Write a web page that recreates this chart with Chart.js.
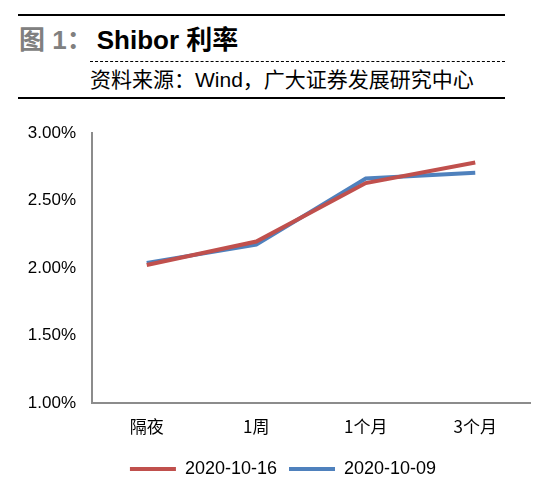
<!DOCTYPE html>
<html>
<head>
<meta charset="utf-8">
<script src="https://cdn.jsdelivr.net/npm/chart.js@4"></script>
<style>
  html, body { margin: 0; padding: 0; background: #fff; }
  body { width: 550px; height: 495px; position: relative; overflow: hidden; font-family: "Liberation Sans", "Noto Sans CJK SC", sans-serif; }
  .rule { position: absolute; left: 18px; width: 487px; border-top: 2px solid #000; }
  .dash { position: absolute; left: 90px; width: 415px; border-top: 1px dashed #000; top: 61px; }
  .title { position: absolute; left: 19px; top: 24px; font-size: 26px; font-weight: bold; line-height: 32px; white-space: nowrap; }
  .title .no { color: #808080; margin-right: 4px; }
  .sub { position: absolute; left: 90px; top: 66px; font-size: 21px; line-height: 28px; white-space: nowrap; }
  #wrap { position: absolute; left: 0; top: 0; width: 550px; height: 495px; }
</style>
</head>
<body>
<div class="rule" style="top:14px"></div>
<div class="title"><span class="no">图 1：</span>Shibor 利率</div>
<div class="dash"></div>
<div class="sub">资料来源：Wind，广大证券发展研究中心</div>
<div class="rule" style="top:97px"></div>
<div id="wrap"><canvas id="myChart"></canvas></div>
<script>
const categories = ['隔夜', '1周', '1个月', '3个月'];
const rate1016 = [2.022, 2.196, 2.629, 2.781];
const rate1009 = [2.038, 2.173, 2.663, 2.705];
const yTicks = [1.00, 1.50, 2.00, 2.50, 3.00];

// push the legend a bit to the right, like the original
const legendShift = {
    id: 'legendShift',
    afterLayout(chart) {
        chart.legend.left += 18;
        chart.legend.right += 18;
    }
};

var ctx = document.getElementById('myChart').getContext('2d');
var myChart = new Chart(ctx, {
    type: 'line',
    data: {
        labels: categories,
        datasets: [{
            label: '2020-10-16',
            data: rate1016,
            borderColor: '#C0504D',
            backgroundColor: '#C0504D',
            borderWidth: 4,
            pointRadius: 0,
            tension: 0
        }, {
            label: '2020-10-09',
            data: rate1009,
            borderColor: '#4F81BD',
            backgroundColor: '#4F81BD',
            borderWidth: 4,
            pointRadius: 0,
            tension: 0
        }]
    },
    options: {
        responsive: true,
        maintainAspectRatio: false,
        animation: false,
        layout: { padding: { top: 133, left: 0, right: 20, bottom: 7 } },
        plugins: {
            tooltip: { enabled: false },
            legend: {
                position: 'bottom',
                labels: {
                    boxWidth: 46,
                    boxHeight: 4,
                    padding: 12,
                    color: '#000',
                    font: { family: 'Liberation Sans', size: 18 },
                    generateLabels: chart => Chart.defaults.plugins.legend.labels.generateLabels(chart)
                        .map(item => Object.assign(item, { lineWidth: 0 }))
                }
            }
        },
        scales: {
            x: {
                offset: true,
                grid: { display: false, drawTicks: false },
                border: { color: '#8c8c8c', width: 2 },
                ticks: { color: '#000', padding: 13, font: { family: 'Noto Sans CJK SC', size: 17 } },
                afterFit: s => { s.height = 45; }
            },
            y: {
                min: 1,
                max: 3,
                afterBuildTicks: s => { s.ticks = yTicks.map(v => ({ value: v })); },
                grid: { display: false, drawTicks: false },
                border: { color: '#8c8c8c', width: 2 },
                ticks: {
                    color: '#000',
                    padding: 16,
                    font: { family: 'Liberation Sans', size: 17 },
                    callback: v => v.toFixed(2) + '%'
                },
                afterFit: s => { s.width = 92; }
            }
        }
    },
    plugins: [legendShift]
});
</script>
</body>
</html>
